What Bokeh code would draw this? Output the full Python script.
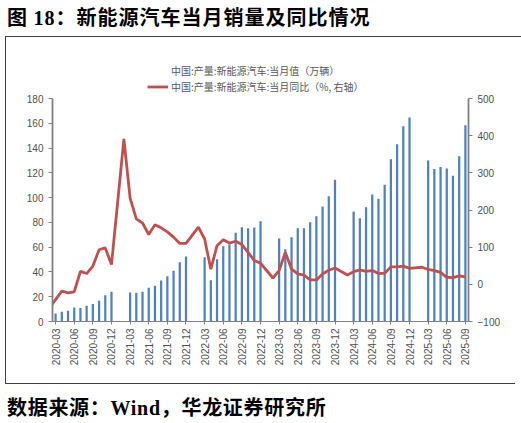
import math
from bokeh.plotting import figure
from bokeh.layouts import column, row
from bokeh.models import (Range1d, LinearAxis, FixedTicker, Legend, LegendItem, Div, Spacer)
from bokeh.embed import file_html
from bokeh.resources import INLINE

# ---------------- data ----------------
years_full = [2020, 2021, 2022, 2023, 2024]
bar_months = [f"{y}-{m:02d}" for y in years_full for m in range(3, 13)] + \
             [f"2025-{m:02d}" for m in range(3, 10)]
bar_values = [
    6.5, 7.8, 8.6, 11.3, 10.8, 12.7, 14.1, 16.8, 21.1, 24.0,          # 2020
    23.5, 23.2, 24.0, 27.3, 28.9, 33.0, 36.5, 41.0, 47.8, 52.4,       # 2021
    51.9, 33.2, 50.2, 60.7, 62.1, 71.6, 76.1, 75.3, 75.9, 81.0,       # 2022
    67.0, 58.3, 68.0, 75.3, 75.3, 80.2, 85.0, 92.9, 101.0, 114.5,     # 2023
    88.8, 83.4, 92.3, 102.6, 99.1, 110.4, 130.9, 143.1, 157.6, 164.7, # 2024
    129.9, 123.1, 124.7, 123.4, 117.7, 133.4, 158.5,                  # 2025
]

line_months = ["2020-02"] + [f"2020-{m:02d}" for m in range(3, 13)] + \
              [f"{y}-{m:02d}" for y in [2021, 2022, 2023, 2024] for m in range(2, 13)] + \
              [f"2025-{m:02d}" for m in range(2, 10)]
line_values = [
    -63,
    -41, -18, -23, -20, 35, 29, 49, 93, 98, 53,                 # 2020
    391, 232, 176, 165, 134, 160, 152, 141, 127, 110, 110,      # 2021
    154, 122, 41, 104, 120, 111, 116, 107, 86, 64, 57,          # 2022
    17, 37, 86, 41, 28, 25, 12, 12, 28, 38, 44,                 # 2023
    25, 34, 39, 35, 37, 29, 30, 47, 47, 49, 43,                 # 2024
    46, 40, 37, 32, 19, 18, 23, 20,                             # 2025
]

tick_labels = ["2020-03", "2020-06", "2020-09", "2020-12",
               "2021-03", "2021-06", "2021-09", "2021-12",
               "2022-03", "2022-06", "2022-09", "2022-12",
               "2023-03", "2023-06", "2023-09", "2023-12",
               "2024-03", "2024-06", "2024-09", "2024-12",
               "2025-03", "2025-06", "2025-09"]
left_ticks = [0, 20, 40, 60, 80, 100, 120, 140, 160, 180]
right_ticks = [-100, 0, 100, 200, 300, 400, 500]

series_names = ["中国:产量:新能源汽车:当月值（万辆）",
                "中国:产量:新能源汽车:当月同比（%, 右轴）"]
title_parts = ["图 ", "18", "：新能源汽车当月销量及同比情况"]
source_parts = ["数据来源：", "Wind", "，华龙证券研究所"]


def month_index(m):
    y, mo = m.split("-")
    return (int(y) - 2020) * 12 + int(mo) - 3


bar_x = [month_index(m) for m in bar_months]
line_x = [month_index(m) for m in line_months]
tick_x = [month_index(m) for m in tick_labels]

BAR = "#4F81BD"
RED = "#C0504D"
AXIS = "#808080"
TXT = "#505050"
BOX = "#404040"

# ---------------- layout constants (page px) ----------------
PAGE_W = 521
LEFT_W = 6                            # strip left of the figure (box border at x=5)
TOP_H, FIG_H, BOT_H = 37, 346, 40
AX_TOP, AX_BOTTOM = 98, 321           # where left axis 180 / 0 sit
FRAME_TOP = 55                        # frame extended upward to hold the legend
FRAME_L, FRAME_R = 52, 468

px_per_left = (AX_BOTTOM - AX_TOP) / (left_ticks[-1] - left_ticks[0])
px_per_right = (AX_BOTTOM - AX_TOP) / (right_ticks[-1] - right_ticks[0])
y_end = left_ticks[-1] + (AX_TOP - FRAME_TOP) / px_per_left
y2_end = right_ticks[-1] + (AX_TOP - FRAME_TOP) / px_per_right

p = figure(width=PAGE_W - LEFT_W, height=FIG_H,
           x_range=Range1d(bar_x[0] - 0.5, bar_x[-1] + 0.5),
           y_range=Range1d(left_ticks[0], y_end),
           output_backend="svg", toolbar_location=None,
           min_border_left=FRAME_L - LEFT_W, min_border_right=PAGE_W - FRAME_R,
           min_border_top=FRAME_TOP - TOP_H,
           min_border_bottom=TOP_H + FIG_H - AX_BOTTOM,
           styles={"box-shadow": f"-1px 0 0 0 {BOX}"})
p.extra_y_ranges = {"yoy": Range1d(right_ticks[0], y2_end)}
p.xgrid.visible = False
p.ygrid.visible = False
p.outline_line_color = None
p.background_fill_color = None
p.border_fill_color = None

bars = p.vbar(x=bar_x, top=bar_values, width=0.36, fill_color=BAR, line_color=None)
line = p.line(x=line_x, y=line_values, y_range_name="yoy", line_color=RED, line_width=2.8)
key_bar = p.line(x=[], y=[], line_color=BAR, line_width=4)

la = p.yaxis[0]
la.ticker = FixedTicker(ticks=left_ticks)
la.bounds = (left_ticks[0], left_ticks[-1])
ra = LinearAxis(y_range_name="yoy", ticker=FixedTicker(ticks=right_ticks),
                bounds=(right_ticks[0], right_ticks[-1]))
p.add_layout(ra, "right")
for ax in [la, ra]:
    ax.axis_line_color = AXIS
    ax.axis_line_width = 1.8
    ax.major_tick_line_color = AXIS
    ax.major_tick_out = 4
    ax.major_tick_in = 0
    ax.minor_tick_line_color = None
    ax.major_label_text_font = "Liberation Sans"
    ax.major_label_text_font_size = "10px"
    ax.major_label_text_color = TXT
    ax.major_label_standoff = 5

xa = p.xaxis[0]
xa.ticker = FixedTicker(ticks=tick_x)
xa.major_label_overrides = {x: lab for x, lab in zip(tick_x, tick_labels)}
xa.major_label_orientation = math.pi / 2
xa.axis_line_color = AXIS
xa.axis_line_width = 1
xa.major_tick_line_color = AXIS
xa.major_tick_out = 3
xa.major_tick_in = 0
xa.minor_tick_line_color = None
xa.major_label_text_font = "Liberation Sans"
xa.major_label_text_font_size = "10px"
xa.major_label_text_color = TXT
xa.major_label_standoff = 4

legend = Legend(items=[LegendItem(label=series_names[0], renderers=[key_bar]),
                       LegendItem(label=series_names[1], renderers=[line])],
                location=(147 - FRAME_L, AX_BOTTOM - 94), orientation="vertical",
                padding=0, margin=0, spacing=1,
                glyph_width=21, glyph_height=13, label_height=13, label_standoff=3,
                border_line_color=None, background_fill_alpha=0,
                label_text_font="Noto Sans CJK SC", label_text_font_size="10px",
                label_text_color="#595959")
p.add_layout(legend, "center")

cjk = "'Noto Sans CJK SC'"
serif = "'Liberation Serif'"


def rich(parts, pad_top, spacing):
    return (f"<div style=\"padding:{pad_top}px 0 0 7px; font-family:{cjk}; font-size:20px; "
            f"font-weight:bold; line-height:24px; color:#000; white-space:nowrap; "
            f"letter-spacing:{spacing}px;\">"
            f"{parts[0]}<span style=\"font-family:{serif};\">{parts[1]}</span>{parts[2]}</div>")


def hline(x, y, w):
    return f"linear-gradient({BOX},{BOX}) {x}px {y}px / {w}px 1px no-repeat"


def vline(x, y, h):
    return f"linear-gradient({BOX},{BOX}) {x}px {y}px / 1px {h}px no-repeat"


title_div = Div(text=rich(title_parts, 5, 1), width=PAGE_W, height=TOP_H, margin=0,
                styles={"background": hline(5, TOP_H - 1, PAGE_W - 5)})
left_strip = Spacer(width=LEFT_W, height=FIG_H, margin=0,
                    styles={"background": vline(LEFT_W - 1, 0, FIG_H)})
source_div = Div(text=rich(source_parts, 12, 0.7), width=PAGE_W, height=BOT_H, margin=0,
                 styles={"background": hline(5, 0, 510)})

page = column(title_div, row(left_strip, p, spacing=0), source_div, spacing=0)
open("out.html", "w").write(file_html(page, INLINE))
